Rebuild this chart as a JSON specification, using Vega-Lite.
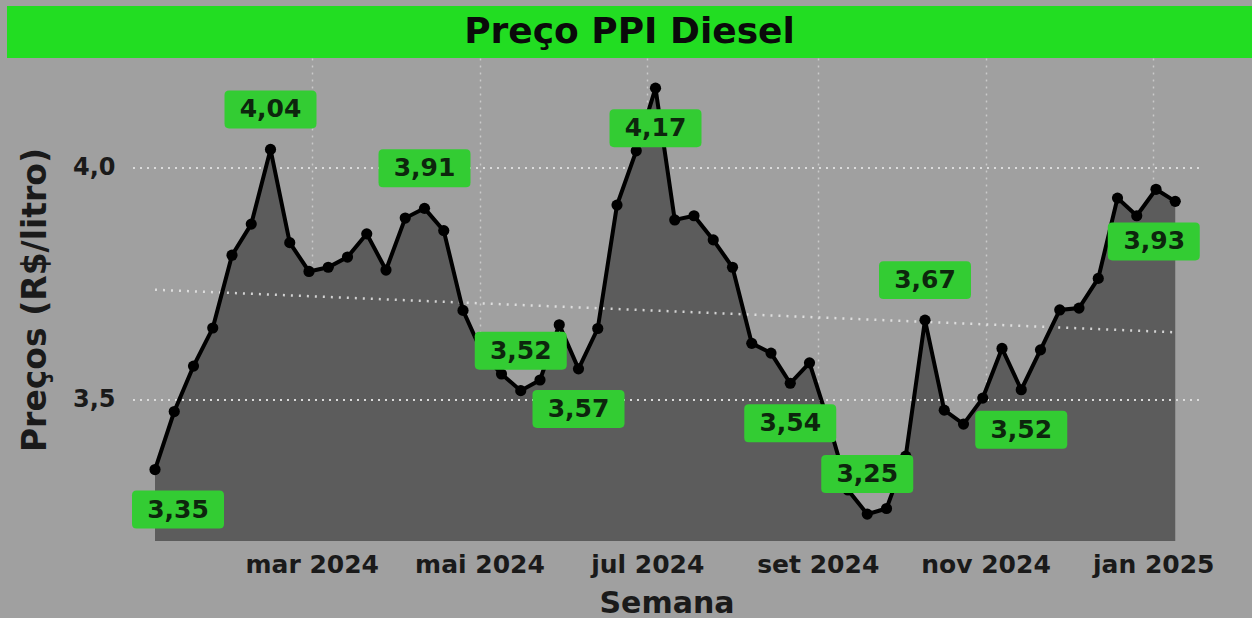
{
  "$schema": "https://vega.github.io/schema/vega-lite/v6.json",
  "background": "#a0a0a0",
  "padding": {"top": 6, "left": 7, "right": 0, "bottom": 0},
  "spacing": 0,
  "config": {
    "view": {"stroke": null},
    "font": "DejaVu Sans",
    "locale": {
      "number": {"decimal": ",", "thousands": ".", "grouping": [3], "currency": ["R$", ""]},
      "time": {
        "dateTime": "%A, %e de %B de %Y. %X",
        "date": "%d/%m/%Y",
        "time": "%H:%M:%S",
        "periods": ["AM", "PM"],
        "days": ["domingo", "segunda", "terça", "quarta", "quinta", "sexta", "sábado"],
        "shortDays": ["dom", "seg", "ter", "qua", "qui", "sex", "sáb"],
        "months": ["janeiro", "fevereiro", "março", "abril", "maio", "junho", "julho", "agosto", "setembro", "outubro", "novembro", "dezembro"],
        "shortMonths": ["jan", "fev", "mar", "abr", "mai", "jun", "jul", "ago", "set", "out", "nov", "dez"]
      }
    }
  },
  "vconcat": [
    {
      "width": 1245,
      "height": 52,
      "view": {"fill": "#22dd22", "stroke": null},
      "data": {"values": [{"titulo": "Preço PPI Diesel"}]},
      "mark": {"type": "text", "font": "DejaVu Sans", "fontWeight": "bold", "fontSize": 36, "color": "#0a0a0a", "baseline": "middle", "align": "center"},
      "encoding": {"text": {"field": "titulo"}}
    },
    {
      "width": 1245,
      "height": 483,
      "view": {"fill": "#a0a0a0", "stroke": null},
      "data": {"values": [
        {"semana": "2024-01-04", "valor": 3.35},
        {"semana": "2024-01-11", "valor": 3.475},
        {"semana": "2024-01-18", "valor": 3.573},
        {"semana": "2024-01-25", "valor": 3.655},
        {"semana": "2024-02-01", "valor": 3.812},
        {"semana": "2024-02-08", "valor": 3.879},
        {"semana": "2024-02-15", "valor": 4.04},
        {"semana": "2024-02-22", "valor": 3.839},
        {"semana": "2024-02-29", "valor": 3.777},
        {"semana": "2024-03-07", "valor": 3.786},
        {"semana": "2024-03-14", "valor": 3.808},
        {"semana": "2024-03-21", "valor": 3.858},
        {"semana": "2024-03-28", "valor": 3.78},
        {"semana": "2024-04-04", "valor": 3.892},
        {"semana": "2024-04-11", "valor": 3.913},
        {"semana": "2024-04-18", "valor": 3.865},
        {"semana": "2024-04-25", "valor": 3.693},
        {"semana": "2024-05-02", "valor": 3.601},
        {"semana": "2024-05-09", "valor": 3.556},
        {"semana": "2024-05-16", "valor": 3.52},
        {"semana": "2024-05-23", "valor": 3.543},
        {"semana": "2024-05-30", "valor": 3.662},
        {"semana": "2024-06-06", "valor": 3.567},
        {"semana": "2024-06-13", "valor": 3.654},
        {"semana": "2024-06-20", "valor": 3.92},
        {"semana": "2024-06-27", "valor": 4.037},
        {"semana": "2024-07-04", "valor": 4.172},
        {"semana": "2024-07-11", "valor": 3.888},
        {"semana": "2024-07-18", "valor": 3.897},
        {"semana": "2024-07-25", "valor": 3.845},
        {"semana": "2024-08-01", "valor": 3.786},
        {"semana": "2024-08-08", "valor": 3.622},
        {"semana": "2024-08-15", "valor": 3.601},
        {"semana": "2024-08-22", "valor": 3.536},
        {"semana": "2024-08-29", "valor": 3.58},
        {"semana": "2024-09-05", "valor": 3.45},
        {"semana": "2024-09-12", "valor": 3.306},
        {"semana": "2024-09-19", "valor": 3.254},
        {"semana": "2024-09-26", "valor": 3.266},
        {"semana": "2024-10-03", "valor": 3.379},
        {"semana": "2024-10-10", "valor": 3.672},
        {"semana": "2024-10-17", "valor": 3.478},
        {"semana": "2024-10-24", "valor": 3.448},
        {"semana": "2024-10-31", "valor": 3.504},
        {"semana": "2024-11-07", "valor": 3.611},
        {"semana": "2024-11-14", "valor": 3.522},
        {"semana": "2024-11-21", "valor": 3.608},
        {"semana": "2024-11-28", "valor": 3.694},
        {"semana": "2024-12-05", "valor": 3.698},
        {"semana": "2024-12-12", "valor": 3.762},
        {"semana": "2024-12-19", "valor": 3.935},
        {"semana": "2024-12-26", "valor": 3.897},
        {"semana": "2025-01-02", "valor": 3.954},
        {"semana": "2025-01-09", "valor": 3.928}
      ]},
      "encoding": {
        "x": {
          "field": "semana", "type": "temporal",
          "scale": {"type": "utc", "domain": [{"year": 2023, "month": 12, "date": 27, "utc": true}, {"year": 2025, "month": 1, "date": 18, "utc": true}], "range": [126, 1193]},
          "axis": {
            "title": "Semana",
            "values": [
              {"year": 2024, "month": 3, "date": 1, "utc": true},
              {"year": 2024, "month": 5, "date": 1, "utc": true},
              {"year": 2024, "month": 7, "date": 1, "utc": true},
              {"year": 2024, "month": 9, "date": 1, "utc": true},
              {"year": 2024, "month": 11, "date": 1, "utc": true},
              {"year": 2025, "month": 1, "date": 1, "utc": true}
            ],
            "format": "%b %Y",
            "domain": false, "ticks": false,
            "grid": true, "gridColor": "#dcdcdc", "gridDash": [2, 5], "gridWidth": 1.5, "gridOpacity": 0.7,
            "labelFont": "DejaVu Sans", "labelFontWeight": "bold", "labelFontSize": 25, "labelColor": "#1a1a1a", "labelPadding": 11,
            "titleFont": "DejaVu Sans", "titleFontWeight": "bold", "titleFontSize": 30, "titleColor": "#1a1a1a", "titlePadding": 11
          }
        },
        "y": {
          "field": "valor", "type": "quantitative",
          "scale": {"domain": [3.196, 4.237], "zero": false},
          "axis": {
            "title": "Preços (R$/litro)",
            "values": [3.5, 4.0],
            "format": ".1f",
            "offset": -126,
            "domain": false, "ticks": false, "grid": false,
            "labelFont": "DejaVu Sans", "labelFontWeight": "bold", "labelFontSize": 24, "labelColor": "#1a1a1a", "labelPadding": 18,
            "titleFont": "DejaVu Sans", "titleFontWeight": "bold", "titleFontSize": 33, "titleColor": "#1a1a1a", "titlePadding": 20
          }
        }
      },
      "layer": [
        {
          "mark": {"type": "rule", "color": "#dcdcdc", "strokeDash": [2, 5], "strokeWidth": 1.5, "opacity": 0.7},
          "encoding": {
            "y": {"datum": 4.0},
            "x": {"datum": {"year": 2023, "month": 12, "date": 27, "utc": true}, "type": "temporal"},
            "x2": {"datum": {"year": 2025, "month": 1, "date": 18, "utc": true}}
          }
        },
        {"mark": {"type": "area", "color": "#5c5c5c", "clip": true}},
        {
          "mark": {"type": "rule", "color": "#dcdcdc", "strokeDash": [2, 5], "strokeWidth": 1.5, "opacity": 0.55},
          "encoding": {
            "y": {"datum": 3.5},
            "x": {"datum": {"year": 2023, "month": 12, "date": 27, "utc": true}, "type": "temporal"},
            "x2": {"datum": {"year": 2025, "month": 1, "date": 18, "utc": true}}
          }
        },
        {
          "transform": [{"regression": "valor", "on": "semana"}],
          "mark": {"type": "line", "color": "#e8e8e8", "strokeDash": [2, 6], "strokeWidth": 2.5, "opacity": 0.85}
        },
        {"mark": {"type": "line", "color": "#000000", "strokeWidth": 4}},
        {"mark": {"type": "point", "filled": true, "color": "#000000", "size": 125, "opacity": 1}},
        {
          "transform": [{"filter": "indexof(['2024-01-04','2024-02-15','2024-04-11','2024-05-16','2024-06-06','2024-07-04','2024-08-22','2024-09-19','2024-10-10','2024-11-14','2025-01-09'], utcFormat(datum.semana, '%Y-%m-%d')) >= 0"}],
          "mark": {"type": "point", "filled": true, "size": 8464, "color": "#33cc33", "opacity": 1, "strokeWidth": 0},
          "encoding": {
            "shape": {
              "condition": [
                {"test": "utcFormat(datum.semana, '%Y-%m-%d') == '2024-01-04'", "value": "M-0.4,0.457L1.4,0.457Q1.5,0.457 1.5,0.557L1.5,1.183Q1.5,1.283 1.4,1.283L-0.4,1.283Q-0.5,1.283 -0.5,1.183L-0.5,0.557Q-0.5,0.457 -0.4,0.457Z"},
                {"test": "utcFormat(datum.semana, '%Y-%m-%d') == '2025-01-09'", "value": "M-1.367,0.457L0.433,0.457Q0.533,0.457 0.533,0.557L0.533,1.183Q0.533,1.283 0.433,1.283L-1.367,1.283Q-1.467,1.283 -1.467,1.183L-1.467,0.557Q-1.467,0.457 -1.367,0.457Z"},
                {"test": "indexof(['2024-06-06','2024-07-04','2024-08-22','2024-11-14'], utcFormat(datum.semana, '%Y-%m-%d')) >= 0", "value": "M-0.9,0.457L0.9,0.457Q1,0.457 1,0.557L1,1.183Q1,1.283 0.9,1.283L-0.9,1.283Q-1,1.283 -1,1.183L-1,0.557Q-1,0.457 -0.9,0.457Z"}
              ],
              "value": "M-0.9,-1.283L0.9,-1.283Q1,-1.283 1,-1.183L1,-0.557Q1,-0.457 0.9,-0.457L-0.9,-0.457Q-1,-0.457 -1,-0.557L-1,-1.183Q-1,-1.283 -0.9,-1.283Z"
            }
          }
        },
        {
          "transform": [{"filter": "indexof(['2024-02-15','2024-04-11','2024-05-16','2024-09-19','2024-10-10'], utcFormat(datum.semana, '%Y-%m-%d')) >= 0"}],
          "mark": {"type": "text", "font": "DejaVu Sans", "fontWeight": "bold", "fontSize": 25, "color": "#0d260d", "baseline": "middle", "align": "center", "dy": -40},
          "encoding": {"text": {"field": "valor", "type": "quantitative", "format": ".2f"}}
        },
        {
          "transform": [{"filter": "indexof(['2024-06-06','2024-07-04','2024-08-22','2024-11-14'], utcFormat(datum.semana, '%Y-%m-%d')) >= 0"}],
          "mark": {"type": "text", "font": "DejaVu Sans", "fontWeight": "bold", "fontSize": 25, "color": "#0d260d", "baseline": "middle", "align": "center", "dy": 40},
          "encoding": {"text": {"field": "valor", "type": "quantitative", "format": ".2f"}}
        },
        {
          "transform": [{"filter": "utcFormat(datum.semana, '%Y-%m-%d') == '2024-01-04'"}],
          "mark": {"type": "text", "font": "DejaVu Sans", "fontWeight": "bold", "fontSize": 25, "color": "#0d260d", "baseline": "middle", "align": "center", "dy": 40, "dx": 23},
          "encoding": {"text": {"field": "valor", "type": "quantitative", "format": ".2f"}}
        },
        {
          "transform": [{"filter": "utcFormat(datum.semana, '%Y-%m-%d') == '2025-01-09'"}],
          "mark": {"type": "text", "font": "DejaVu Sans", "fontWeight": "bold", "fontSize": 25, "color": "#0d260d", "baseline": "middle", "align": "center", "dy": 40, "dx": -21},
          "encoding": {"text": {"field": "valor", "type": "quantitative", "format": ".2f"}}
        }
      ]
    }
  ]
}
